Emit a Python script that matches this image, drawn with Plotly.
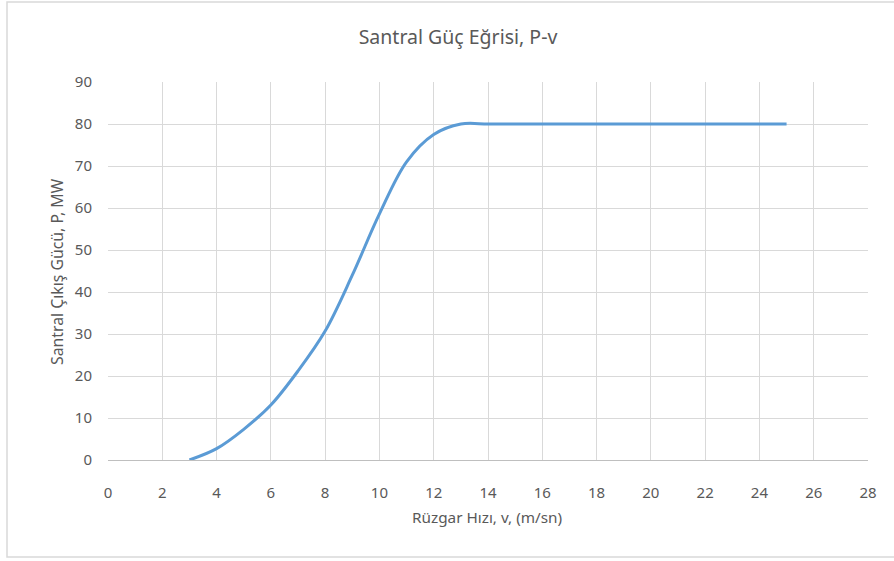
import plotly.graph_objects as go

# Data
wind_speed = [3, 4, 5, 6, 7, 8, 9, 10, 11, 12, 13, 14, 15, 16, 17, 18, 19, 20, 21, 22, 23, 24, 25]
power_mw = [0, 2.7, 7.3, 13.1, 21.2, 30.7, 44.0, 58.6, 71.0, 77.5, 80, 80, 80, 80, 80, 80, 80, 80, 80, 80, 80, 80, 80]
x_ticks = list(range(0, 29, 2))
y_ticks = list(range(0, 91, 10))

title_text = "Santral Güç Eğrisi, P-v"
x_title = "Rüzgar Hızı, v, (m/sn)"
y_title = "Santral Çıkış Gücü, P, MW"

FONT = "Noto Sans"
TXT = "#595959"
GRID = "#d9d9d9"

fig = go.Figure()
fig.add_trace(go.Scatter(
    x=wind_speed, y=power_mw, mode="lines",
    line=dict(color="#5b9bd5", width=3, shape="spline", smoothing=1.0),
    showlegend=False, hoverinfo="x+y",
))

W, H = 894, 561
L, R, T, B = 108, 26, 82, 101
pw, ph = W - L - R, H - T - B


def px_x(p):
    return (p - L) / pw


def px_y(p):
    return (H - B - p) / ph


fig.update_layout(
    width=W, height=H,
    margin=dict(l=L, r=R, t=T, b=B, pad=0),
    paper_bgcolor="white", plot_bgcolor="white",
    font=dict(family=FONT, color=TXT, size=12),
    title=dict(text=title_text, x=458 / W, xanchor="center", y=1 - 37 / H, yanchor="middle",
               font=dict(family=FONT, size=19.5, color=TXT)),
    xaxis=dict(range=[0, 28], tickvals=x_ticks, showgrid=True, gridcolor=GRID, gridwidth=1,
               zeroline=False, showline=True, linecolor="#bfbfbf", linewidth=1,
               ticks="", ticklabelstandoff=19, tickfont=dict(size=15, color=TXT)),
    yaxis=dict(range=[0, 90], tickvals=y_ticks, showgrid=True, gridcolor=GRID, gridwidth=1,
               zeroline=False, showline=False, ticks="", ticklabelstandoff=15,
               tickfont=dict(size=15, color=TXT)),
    annotations=[
        dict(text=x_title, xref="paper", yref="paper", x=px_x(487), y=px_y(517),
             xanchor="center", yanchor="middle", showarrow=False,
             font=dict(family=FONT, size=15.3, color=TXT)),
        dict(text=y_title, xref="paper", yref="paper", x=px_x(57), y=px_y(272),
             xanchor="center", yanchor="middle", showarrow=False, textangle=-90,
             font=dict(family=FONT, size=15.8, color=TXT)),
    ],
    shapes=[
        dict(type="rect", xref="paper", yref="paper",
             x0=px_x(7), x1=px_x(910), y0=px_y(557), y1=px_y(2),
             line=dict(color="#d9d9d9", width=1.5), fillcolor="rgba(0,0,0,0)", layer="below"),
    ],
)

fig.write_html("out.html", config={"displayModeBar": False},
               post_script="document.body.style.margin='0';")
